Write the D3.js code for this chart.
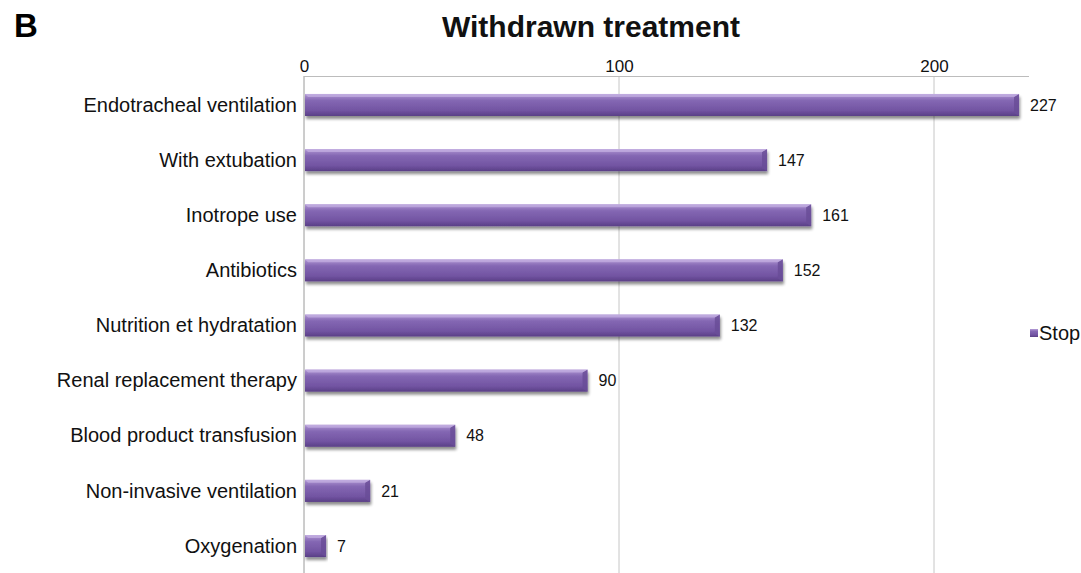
<!DOCTYPE html>
<html>
<head>
<meta charset="utf-8">
<script src="https://cdn.jsdelivr.net/npm/d3@7"></script>
<style>
  html, body { margin: 0; padding: 0; background: #fff; }
  svg { display: block; font-family: "Liberation Sans", Arial, Helvetica, sans-serif; }
</style>
</head>
<body>
<svg id="chart" width="1081" height="573"></svg>
<script>
// Treatments withdrawn (count of patients, "Stop")
const categories = [
  "Endotracheal ventilation",
  "With extubation",
  "Inotrope use",
  "Antibiotics",
  "Nutrition et hydratation",
  "Renal replacement therapy",
  "Blood product transfusion",
  "Non-invasive ventilation",
  "Oxygenation"
];
const stopValues = [227, 147, 161, 152, 132, 90, 48, 21, 7];
const tickValues = [0, 100, 200];
const seriesName = "Stop";

const svg = d3.select("#chart");
const W = 1081, H = 573;
const axisY = 76;

const x = d3.scaleLinear().domain([0, 230]).range([304, 1028.5]);
const y = d3.scaleBand()
  .domain(categories)
  .range([77.4, 573.6])
  .paddingInner(0.6)
  .paddingOuter(0.3);

const defs = svg.append("defs");
const grad = defs.append("linearGradient")
  .attr("id", "barGrad").attr("x1", 0).attr("y1", 0).attr("x2", 0).attr("y2", 1);
[[0, "#b9a2da"], [0.12, "#9e83c6"], [0.3, "#8467b3"], [0.75, "#7254a2"], [1, "#5a3f86"]]
  .forEach(([o, c]) => grad.append("stop").attr("offset", o).attr("stop-color", c));

const shadow = defs.append("filter").attr("id", "barShadow")
  .attr("x", "-5%").attr("y", "-30%").attr("width", "110%").attr("height", "190%");
shadow.append("feGaussianBlur").attr("in", "SourceAlpha").attr("stdDeviation", 1.6).attr("result", "b");
shadow.append("feOffset").attr("in", "b").attr("dx", 1).attr("dy", 2.5).attr("result", "o");
shadow.append("feComponentTransfer").attr("in", "o").attr("result", "s")
  .append("feFuncA").attr("type", "linear").attr("slope", 0.45);
const merge = shadow.append("feMerge");
merge.append("feMergeNode").attr("in", "s");
merge.append("feMergeNode").attr("in", "SourceGraphic");

// Title and panel letter
svg.append("text").attr("x", 14).attr("y", 37)
  .attr("font-size", 33).attr("font-weight", "bold").attr("fill", "#000").text("B");
svg.append("text").attr("x", 591).attr("y", 37).attr("text-anchor", "middle")
  .attr("font-size", 30).attr("font-weight", "bold").attr("fill", "#111")
  .text("Withdrawn treatment");

// Vertical gridlines
svg.append("g").selectAll("line").data(tickValues.slice(1)).join("line")
  .attr("x1", d => x(d)).attr("x2", d => x(d))
  .attr("y1", axisY).attr("y2", H)
  .attr("stroke", "#c6c6c6").attr("stroke-width", 1);

// Top value axis
const xAxis = svg.append("g").attr("transform", `translate(0,${axisY})`)
  .call(d3.axisTop(x).tickValues(tickValues).tickSize(0).tickPadding(4));
xAxis.select(".domain").attr("stroke", "#bcbcbc");
xAxis.selectAll("text").attr("font-size", 17).attr("fill", "#111")
  .attr("font-family", "Liberation Sans, Arial, sans-serif");

// Category axis line
svg.append("line").attr("x1", x(0)).attr("x2", x(0)).attr("y1", axisY).attr("y2", H)
  .attr("stroke", "#9a9a9a").attr("stroke-width", 1);

// Category labels
svg.append("g").selectAll("text").data(categories).join("text")
  .attr("x", 297).attr("y", d => y(d) + y.bandwidth() / 2)
  .attr("dy", "0.33em").attr("text-anchor", "end")
  .attr("font-size", 20).attr("fill", "#111").text(d => d);

// Bars
const rows = categories.map((c, i) => ({ c, v: stopValues[i] }));
const bars = svg.append("g").selectAll("g").data(rows).join("g")
  .attr("filter", "url(#barShadow)");
bars.append("rect")
  .attr("x", x(0) + 1).attr("y", d => y(d.c))
  .attr("width", d => x(d.v) - x(0) - 1).attr("height", y.bandwidth())
  .attr("fill", "url(#barGrad)");
// bevelled end cap
bars.append("path")
  .attr("d", d => {
    const x1 = x(d.v), y0 = y(d.c), h = y.bandwidth();
    return `M${x1 - 5},${y0 + 3}L${x1},${y0}L${x1},${y0 + h}L${x1 - 5},${y0 + h - 3}Z`;
  })
  .attr("fill", "#6a4d98").attr("opacity", 0.85);
bars.append("path")
  .attr("d", d => {
    const x1 = x(d.v), y0 = y(d.c);
    return `M${x(0) + 1},${y0}L${x1},${y0}L${x1 - 5},${y0 + 3}L${x(0) + 4},${y0 + 3}Z`;
  })
  .attr("fill", "#c4b0e2").attr("opacity", 0.7);

// Value labels
svg.append("g").selectAll("text").data(rows).join("text")
  .attr("x", d => x(d.v) + 11).attr("y", d => y(d.c) + y.bandwidth() / 2)
  .attr("dy", "0.35em").attr("font-size", 16).attr("fill", "#111")
  .text(d => d.v);

// Legend
const lg = svg.append("g").attr("transform", "translate(1030,329)");
lg.append("rect").attr("width", 8).attr("height", 8).attr("fill", "url(#barGrad)");
lg.append("text").attr("x", 9).attr("y", 4).attr("dy", "0.35em")
  .attr("font-size", 20).attr("fill", "#111").text(seriesName);
</script>
</body>
</html>
